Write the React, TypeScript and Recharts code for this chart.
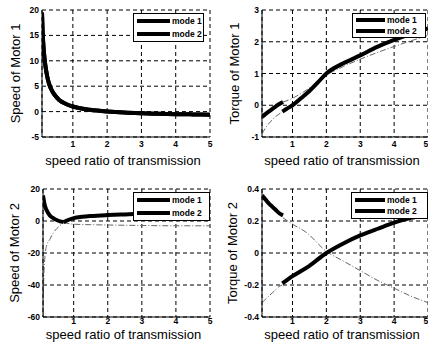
import React from 'react';
import { LineChart, Line, XAxis, YAxis, CartesianGrid, Legend, Label } from 'recharts';

const FONT = '"Liberation Sans", Arial, sans-serif';

const X_TICKS = [1, 2, 3, 4, 5];
const LEGEND_NAMES = ['mode 1', 'mode 2'];

// Speed of Motor 1 (both modes lie on the same curve)
const speed1X = [0.1, 0.12, 0.15, 0.2, 0.25, 0.3, 0.4, 0.5, 0.6, 0.8, 1, 1.25, 1.5, 2, 2.5, 3, 3.5, 4, 4.5, 5];
const speed1Y = [19.5, 15.5, 12.2, 9, 7, 5.6, 4, 3, 2.3, 1.5, 1, 0.6, 0.35, 0.02, -0.2, -0.33, -0.42, -0.5, -0.55, -0.6];

// Torque of Motor 1
const torque1M1aX = [0.1, 0.2, 0.3, 0.4, 0.5, 0.6, 0.72];
const torque1M1aY = [-0.37, -0.28, -0.2, -0.12, -0.04, 0.03, 0.1];
const torque1M1bX = [0.72, 1, 1.4, 2, 2.5, 3, 3.5, 4, 4.5, 5];
const torque1M1bY = [0.1, 0.22, 0.47, 0.95, 1.22, 1.45, 1.66, 1.85, 2.03, 2.2];
const torque1M2aX = [0.1, 0.2, 0.3, 0.4, 0.5, 0.6, 0.7];
const torque1M2aY = [-0.9, -0.72, -0.58, -0.46, -0.36, -0.28, -0.2];
const torque1M2bX = [0.7, 0.85, 1, 1.25, 1.5, 1.75, 2, 2.5, 3, 3.5, 4, 4.5, 5];
const torque1M2bY = [-0.2, -0.1, 0, 0.22, 0.45, 0.72, 1.0, 1.32, 1.57, 1.84, 2.06, 2.25, 2.42];

// Speed of Motor 2
const speed2M1aX = [0.1, 0.15, 0.2, 0.3, 0.4, 0.5, 0.6, 0.7];
const speed2M1aY = [16, 10, 7, 3.5, 1.8, 0.6, -0.2, -0.6];
const speed2M1bX = [0.7, 1, 1.5, 2, 3, 4, 5];
const speed2M1bY = [-1, -2, -2.3, -2.5, -2.8, -3, -3];
const speed2M2aX = [0.1, 0.12, 0.15, 0.2, 0.3, 0.4, 0.5, 0.6, 0.7];
const speed2M2aY = [-60, -38, -24, -16, -11.5, -7.5, -4.8, -2.8, -1.2];
const speed2M2bX = [0.7, 0.8, 1, 1.25, 1.5, 2, 2.5, 3, 3.5, 4, 4.5, 5];
const speed2M2bY = [-0.8, 0.3, 1.8, 2.6, 3.1, 3.7, 4.1, 4.5, 4.8, 5.1, 5.3, 5.5];

// Torque of Motor 2
const torque2M1aX = [0.1, 0.2, 0.3, 0.4, 0.5, 0.6, 0.72];
const torque2M1aY = [0.36, 0.335, 0.31, 0.29, 0.27, 0.25, 0.235];
const torque2M1bX = [0.72, 1, 1.4, 2, 2.5, 3, 3.5, 4, 4.5, 5];
const torque2M1bY = [0.22, 0.18, 0.13, 0.01, -0.05, -0.11, -0.17, -0.22, -0.27, -0.31];
const torque2M2aX = [0.1, 0.2, 0.3, 0.4, 0.5, 0.6, 0.7];
const torque2M2aY = [-0.31, -0.29, -0.27, -0.25, -0.23, -0.21, -0.2];
const torque2M2bX = [0.7, 1, 1.5, 2, 2.5, 3, 3.5, 4, 4.5, 5];
const torque2M2bY = [-0.19, -0.145, -0.08, 0, 0.06, 0.11, 0.15, 0.19, 0.22, 0.24];

const pts = (xs: number[], ys: number[]) => xs.map((x, i) => ({ x, y: ys[i] }));

type Seg = { data: { x: number; y: number }[]; thick: boolean };

const panels = [
  {
    left: 0, top: 0, plot: { l: 42, t: 10, r: 210, b: 137 },
    yTicks: [-5, 0, 5, 10, 15, 20], yTitle: 'Speed of Motor 1', yTitleX: 15, xTitleY: 165, tickGap: 4,
    legend: { left: 133, top: 13, width: 71, height: 29, lineW: 33 },
    segs: [
      { data: pts(speed1X, speed1Y), thick: true },
      { data: pts(speed1X, speed1Y), thick: true },
    ] as Seg[],
  },
  {
    left: 214, top: 0, plot: { l: 48, t: 10, r: 214, b: 137 },
    yTicks: [-1, 0, 1, 2, 3], yTitle: 'Torque of Motor 1', yTitleX: 20, xTitleY: 165, tickGap: 4,
    legend: { left: 138, top: 13, width: 74, height: 25, lineW: 29 },
    segs: [
      { data: pts(torque1M1bX, torque1M1bY), thick: false },
      { data: pts(torque1M2aX, torque1M2aY), thick: false },
      { data: pts(torque1M1aX, torque1M1aY), thick: true },
      { data: pts(torque1M2bX, torque1M2bY), thick: true },
    ] as Seg[],
  },
  {
    left: 0, top: 174, plot: { l: 43, t: 15, r: 210, b: 143 },
    yTicks: [-60, -40, -20, 0, 20], yTitle: 'Speed of Motor 2', yTitleX: 14, xTitleY: 164.5, tickGap: 1,
    legend: { left: 133, top: 18, width: 77, height: 29, lineW: 33 },
    segs: [
      { data: pts(speed2M1bX, speed2M1bY), thick: false },
      { data: pts(speed2M2aX, speed2M2aY), thick: false },
      { data: pts(speed2M1aX, speed2M1aY), thick: true },
      { data: pts(speed2M2bX, speed2M2bY), thick: true },
    ] as Seg[],
  },
  {
    left: 214, top: 174, plot: { l: 48, t: 15, r: 214, b: 143 },
    yTicks: [-0.4, -0.2, 0, 0.2, 0.4], yTitle: 'Torque of Motor 2', yTitleX: 18, xTitleY: 164.5, tickGap: 1,
    legend: { left: 137, top: 18, width: 77, height: 27, lineW: 30 },
    segs: [
      { data: pts(torque2M1bX, torque2M1bY), thick: false },
      { data: pts(torque2M2aX, torque2M2aY), thick: false },
      { data: pts(torque2M1aX, torque2M1aY), thick: true },
      { data: pts(torque2M2bX, torque2M2bY), thick: true },
    ] as Seg[],
  },
];

const tickStyle = { fontSize: 8.5, fontWeight: 'bold', fill: '#000', fontFamily: FONT };

const Panel = ({ p }: { p: typeof panels[number] }) => {
  const { l, t, r, b } = p.plot;
  const cy = (t + b) / 2;
  const cx = (l + r) / 2;
  const lg = p.legend;
  return (
    <div style={{ position: 'absolute', left: p.left, top: p.top }}>
      <LineChart width={214} height={174} margin={{ top: t, right: 214 - r, bottom: 0, left: 0 }}>
        <CartesianGrid stroke="#000" strokeDasharray="4 3" />
        <XAxis
          type="number" dataKey="x" domain={[0.1, 5]} ticks={X_TICKS} allowDataOverflow
          height={174 - b} tickLine={false} tickSize={0} tickMargin={p.tickGap}
          axisLine={{ stroke: '#000' }} tick={tickStyle}
        >
          <Label
            content={() => (
              <text x={cx - 3} y={p.xTitleY} textAnchor="middle" fontSize={13} fontFamily={FONT} fill="#000">
                speed ratio of transmission
              </text>
            )}
          />
        </XAxis>
        <YAxis
          type="number" domain={[p.yTicks[0], p.yTicks[p.yTicks.length - 1]]} ticks={p.yTicks}
          allowDataOverflow width={l} tickLine={false} tickSize={0} tickMargin={3}
          axisLine={{ stroke: '#000' }} tick={tickStyle}
        >
          <Label
            content={() => (
              <text x={p.yTitleX} y={cy} dy="0.35em" transform={`rotate(-90 ${p.yTitleX} ${cy})`}
                textAnchor="middle" fontSize={13} fontFamily={FONT} fill="#000">
                {p.yTitle}
              </text>
            )}
          />
        </YAxis>
        {p.segs.map((s, i) => (
          <Line
            key={i} name={`seg${i}`} data={s.data} dataKey="y" type="monotone" dot={false}
            stroke={s.thick ? '#000' : '#666'} strokeWidth={s.thick ? 4 : 1}
            strokeDasharray={s.thick ? undefined : '6 2 1 2'}
            isAnimationActive={false} legendType="none"
          />
        ))}
        <Legend
          layout="horizontal" verticalAlign="middle" align="center"
          wrapperStyle={{ position: 'absolute', left: lg.left, top: lg.top, width: lg.width, height: lg.height }}
          content={() => (
            <div style={{
              width: lg.width, height: lg.height, border: '1px solid #000', background: '#fff',
              boxSizing: 'border-box', display: 'flex', flexDirection: 'column', justifyContent: 'space-around',
              padding: '1px 0 1px 3px', fontFamily: FONT, fontSize: 8.5, fontWeight: 'bold', color: '#000',
            }}>
              {LEGEND_NAMES.map((n) => (
                <div key={n} style={{ display: 'flex', alignItems: 'center', lineHeight: '10px' }}>
                  <span style={{ display: 'inline-block', width: lg.lineW, height: 4, background: '#000', marginRight: 2 }} />
                  {n}
                </div>
              ))}
            </div>
          )}
        />
      </LineChart>
    </div>
  );
}

export default function App() {
  return (
    <div style={{ position: 'absolute', left: 0, top: 0, width: 428, height: 348, background: '#fff', overflow: 'hidden' }}>
      {panels.map((p, i) => (
        <Panel key={i} p={p} />
      ))}
    </div>
  );
}
